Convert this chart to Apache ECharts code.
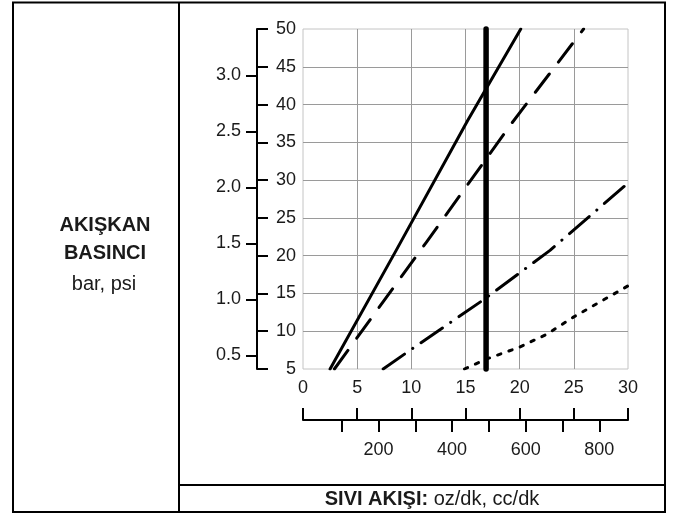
<!DOCTYPE html>
<html>
<head>
<meta charset="utf-8">
<script src="https://cdn.jsdelivr.net/npm/echarts@6/dist/echarts.min.js"></script>
<style>
  html, body { margin: 0; padding: 0; background: #fff; }
  #chart { width: 677px; height: 515px; }
</style>
</head>
<body>
<div id="chart"></div>
<script>
// akış eğrileri: [oz/dk, psi]
const solidFlow = [[2.5, 5], [8.6, 20.7], [15.2, 37.9], [20.1, 50]];
const dashedFlow = [[2.9, 5], [11.4, 21.8], [19.2, 37.4], [25.9, 50]];
const dashDotFlow = [[7.4, 5], [10, 7.6], [16.6, 14.1], [22.8, 20.7], [30, 29.6]];
const dottedFlow = [[14.9, 5], [16.9, 6.3], [20, 7.9], [22.5, 9.6], [25, 11.9], [30, 16]];
const markerFlow = [[16.9, 5], [16.9, 50]];

const barTicks = [0.5, 1.0, 1.5, 2.0, 2.5, 3.0];
const ccTicks = [100, 200, 300, 400, 500, 600, 700, 800];
const ccLabels = [200, 400, 600, 800];

const FONT = '"Liberation Sans", Arial, sans-serif';
const INK = '#1a1a1a';

const chart = echarts.init(document.getElementById('chart'), null, { renderer: 'canvas' });

function curve(data, width, dash, clip) {
    return {
        type: 'line',
        data: data,
        xAxisIndex: 0,
        yAxisIndex: 0,
        symbol: 'none',
        clip: clip,
        animation: false,
        lineStyle: { color: '#000', width: width, type: dash, cap: 'round', join: 'round' }
    };
}

const labelStyle = { color: INK, fontSize: 18, fontFamily: FONT };
const blackLine = { color: '#000', width: 2 };

chart.setOption({
    animation: false,
    backgroundColor: '#fff',
    grid: {
        left: 303, right: 49, top: 29, bottom: 146,
        show: true, borderColor: '#c4c4c4', borderWidth: 1
    },
    xAxis: [
        {
            type: 'value', min: 0, max: 30, interval: 5, position: 'bottom',
            axisLine: { show: false, onZero: false }, axisTick: { show: false },
            axisLabel: Object.assign({ margin: 10 }, labelStyle),
            splitLine: { show: true, showMinLine: false, showMaxLine: false,
                lineStyle: { color: '#9a9a9a', width: 1 } }
        },
        {
            type: 'value', min: 0, max: 30, interval: 5, position: 'bottom', offset: 51,
            axisLine: { show: true, onZero: false, lineStyle: blackLine },
            axisTick: { show: true, inside: true, length: 12, lineStyle: blackLine },
            axisLabel: { show: false },
            splitLine: { show: false }
        },
        {
            type: 'value', min: -5, max: 878, position: 'bottom', offset: 51,
            axisLine: { show: false, onZero: false },
            axisTick: { show: true, length: 12, customValues: ccTicks, lineStyle: blackLine },
            axisLabel: Object.assign({ margin: 21, customValues: ccLabels }, labelStyle),
            splitLine: { show: false }
        }
    ],
    yAxis: [
        {
            type: 'value', min: 5, max: 50, interval: 5, position: 'left', offset: 46,
            axisLine: { show: true, onZero: false, lineStyle: blackLine },
            axisTick: { show: true, inside: true, length: 11, lineStyle: blackLine },
            axisLabel: Object.assign({ inside: true, align: 'right', margin: 39 }, labelStyle),
            splitLine: { show: true, showMinLine: false, showMaxLine: false,
                lineStyle: { color: '#9a9a9a', width: 1 } }
        },
        {
            type: 'value', min: 0.3795, max: 3.415, position: 'left', offset: 46,
            axisLine: { show: false, onZero: false },
            axisTick: { show: true, length: 11, customValues: barTicks, lineStyle: blackLine },
            axisLabel: Object.assign({ margin: 16, customValues: barTicks,
                formatter: v => v.toFixed(1) }, labelStyle),
            splitLine: { show: false }
        }
    ],
    series: [
        curve(solidFlow, 3, 'solid', true),
        curve(dashedFlow, 3, [23, 15], true),
        curve(dashDotFlow, 3, [26, 10, 0.1, 10], true),
        curve(dottedFlow, 3, [3.5, 8.5], true),
        curve(markerFlow, 5.5, 'solid', false)
    ],
    graphic: [
        { type: 'rect', shape: { x: 13, y: 2.5, width: 652, height: 509.5 },
          style: { fill: 'none', stroke: '#000', lineWidth: 2 }, silent: true },
        { type: 'line', shape: { x1: 179, y1: 2.5, x2: 179, y2: 512 },
          style: { stroke: '#000', lineWidth: 2 }, silent: true },
        { type: 'line', shape: { x1: 179, y1: 485, x2: 665, y2: 485 },
          style: { stroke: '#000', lineWidth: 2 }, silent: true },
        { type: 'text', x: 105, y: 225,
          style: { text: 'AKIŞKAN', fontSize: 20, fontWeight: 'bold', fontFamily: FONT,
                   fill: INK, align: 'center', verticalAlign: 'middle' } },
        { type: 'text', x: 105, y: 253,
          style: { text: 'BASINCI', fontSize: 20, fontWeight: 'bold', fontFamily: FONT,
                   fill: INK, align: 'center', verticalAlign: 'middle' } },
        { type: 'text', x: 104, y: 284,
          style: { text: 'bar, psi', fontSize: 20, fontFamily: FONT,
                   fill: INK, align: 'center', verticalAlign: 'middle' } },
        { type: 'text', x: 432, y: 499,
          style: {
              text: '{b|SIVI AKIŞI:} {r|oz/dk, cc/dk}',
              align: 'center', verticalAlign: 'middle',
              rich: {
                  b: { fontSize: 20, fontWeight: 'bold', fontFamily: FONT, fill: INK },
                  r: { fontSize: 20, fontFamily: FONT, fill: INK }
              },
              fontSize: 20, fontFamily: FONT, fill: INK
          } }
    ]
});
</script>
</body>
</html>
